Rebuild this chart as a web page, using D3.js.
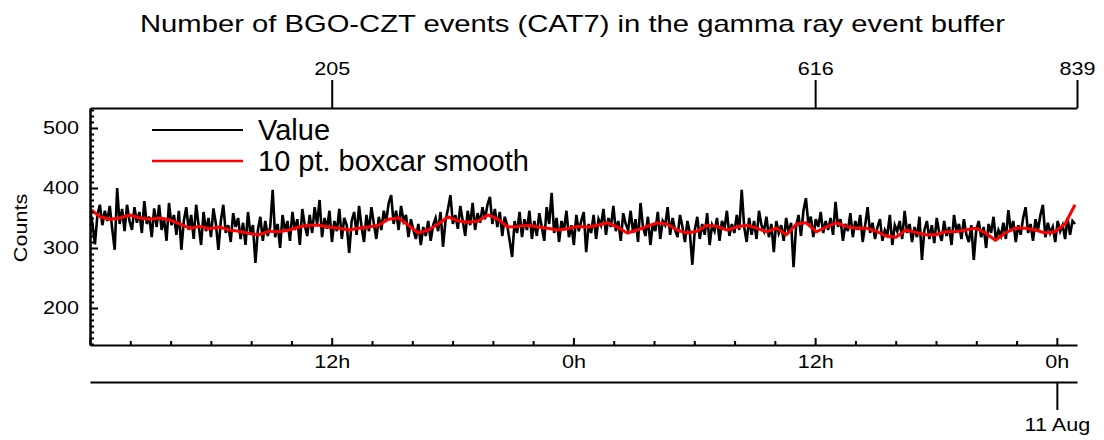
<!DOCTYPE html>
<html>
<head>
<meta charset="utf-8">
<script src="https://cdn.jsdelivr.net/npm/d3@7"></script>
<style>
  body { margin: 0; background: #fff; }
  svg { display: block; font-family: "Liberation Sans", Arial, sans-serif; }
</style>
</head>
<body>
<div id="root"></div>
<script>
const WIDTH = 1104;
const HEIGHT = 440;
const plot = { left: 90, right: 1077, top: 108, bottom: 345 };

// time span of the plot (UTC)
const startTime = new Date(Date.UTC(2022, 7, 9, 0, 0));
const endTime = new Date(Date.UTC(2022, 7, 11, 1, 0));
const lastSample = new Date(Date.UTC(2022, 7, 11, 0, 54));

// raw counts (evenly spaced in time)
const values = [
  365, 340, 306, 355, 372, 338, 362, 345, 370, 332, 297, 400, 340, 365, 328, 372, 345, 330, 368, 342,
  360, 325, 378, 340, 352, 318, 366, 335, 372, 330, 348, 312, 375, 338, 355, 322, 362, 297, 345, 368,
  330, 355, 315, 372, 338, 305, 360, 328, 350, 318, 366, 340, 297, 345, 372, 325, 338, 310, 358, 335,
  350, 315, 342, 305, 360, 322, 338, 275, 330, 352, 312, 345, 320, 335, 397, 318, 340, 300, 355, 328,
  345, 312, 360, 330, 348, 305, 365, 338, 320, 355, 325, 368, 340, 380, 318, 350, 332, 362, 310, 345,
  328, 365, 315, 350, 338, 292, 345, 360, 322, 370, 335, 310, 355, 328, 368, 340, 315, 352, 330, 362,
  345, 375, 388, 340, 362, 330, 370, 345, 355, 318, 348, 330, 315, 340, 305, 335, 320, 345, 312, 338,
  350, 328, 360, 302, 345, 365, 388, 340, 355, 332, 370, 345, 320, 362, 338, 375, 330, 358, 342, 368,
  348, 372, 385, 340, 365, 335, 360, 320, 352, 338, 312, 285, 345, 325, 360, 318, 348, 330, 362, 315,
  345, 320, 358, 335, 312, 368, 340, 392, 325, 350, 310, 345, 330, 362, 318, 338, 305, 355, 328, 345,
  360, 293, 340, 325, 355, 315, 348, 338, 365, 322, 350, 335, 370, 328, 345, 312, 358, 340, 330, 362,
  325, 348, 310, 375, 335, 320, 352, 305, 340, 328, 360, 315, 345, 338, 368, 322, 350, 330, 318, 355,
  335, 310, 345, 325, 272, 330, 352, 315, 340, 322, 358, 305, 338, 328, 350, 312, 345, 332, 362, 320,
  340, 325, 355, 330, 397, 335, 310, 350, 322, 345, 315, 362, 338, 328, 352, 318, 340, 293, 345, 325,
  338, 312, 350, 325, 342, 268, 335, 355, 320, 362, 383, 340, 352, 318, 348, 335, 360, 325, 345, 330,
  350, 322, 377, 335, 348, 312, 340, 328, 358, 318, 345, 330, 355, 310, 338, 368, 325, 342, 315, 335,
  348, 312, 330, 322, 355, 305, 338, 328, 345, 315, 362, 325, 340, 310, 335, 318, 352, 280, 330, 345,
  315, 338, 308, 350, 325, 312, 345, 320, 335, 305, 355, 328, 340, 315, 348, 322, 310, 338, 280, 330,
  345, 318, 335, 300, 340, 325, 352, 312, 330, 320, 342, 315, 363, 328, 345, 310, 338, 322, 350, 368,
  325, 340, 312, 348, 330, 355, 372, 318, 342, 325, 335, 310, 345, 328, 338, 315, 350, 322, 345, 340
];

// 10 pt. boxcar smooth (evenly spaced in time)
const smoothValues = [
  365, 352, 348, 350, 355, 350, 348, 350, 347, 340, 333, 336, 332, 335, 330, 328, 324, 322, 328, 327,
  330, 335, 338, 338, 335, 333, 330, 333, 335, 338, 348, 350, 338, 325, 330, 340, 352, 345, 343, 345,
  355, 348, 335, 336, 338, 335, 333, 330, 332, 336, 335, 338, 342, 335, 325, 330, 336, 342, 340, 330,
  325, 328, 338, 336, 330, 335, 338, 333, 327, 333, 322, 340, 342, 327, 335, 342, 336, 333, 333, 328,
  320, 318, 330, 326, 322, 322, 327, 327, 330, 333, 325, 313, 325, 333, 333, 330, 325, 327, 340, 372
];

const yMajorTicks = [200, 300, 400, 500];
const yMinorTicks = d3.range(140, 531, 10).filter(v => v % 100 !== 0);

const topTickTimes = [
  new Date(Date.UTC(2022, 7, 9, 12, 0)),
  new Date(Date.UTC(2022, 7, 10, 12, 0)),
  endTime
];
const topTickLabels = ['205', '616', '839'];

const bottomMajorTimes = d3.utcHour.every(12).range(startTime, endTime);
const bottomMajorLabels = ['', '12h', '0h', '12h', '0h'];
const bottomMinorTimes = d3.utcHour.every(2).range(startTime, endTime)
    .filter(d => d.getUTCHours() % 12 !== 0);
const dateTickTimes = [new Date(Date.UTC(2022, 7, 11, 0, 0))];
const dateTickLabels = ['11 Aug'];

const legendItems = ['Value', '10 pt. boxcar smooth'];
const legendColors = ['#000000', '#ff0000'];

const x = d3.scaleUtc().domain([startTime, endTime]).range([plot.left, plot.right]);
const y = d3.scaleLinear().domain([138.3, 533.3]).range([plot.bottom, plot.top]);

// sample index -> time (as ms, turned into Dates below)
const valueTime = d3.scaleLinear().domain([0, values.length - 1]).range([+startTime, +lastSample]);
const smoothTime = d3.scaleLinear().domain([0, smoothValues.length - 1]).range([+startTime, +lastSample]);

const svg = d3.select('#root').append('svg')
    .attr('width', WIDTH)
    .attr('height', HEIGHT);

const FONT = '"Liberation Sans", Arial, sans-serif';
const STRETCH = 1.2;

// title
svg.append('text')
    .attr('x', 140)
    .attr('y', 32)
    .attr('textLength', 865)
    .attr('lengthAdjust', 'spacingAndGlyphs')
    .style('font-size', '24px')
    .text('Number of BGO-CZT events (CAT7) in the gamma ray event buffer');

// data lines
svg.append('clipPath').attr('id', 'clip')
  .append('rect')
    .attr('x', plot.left).attr('y', plot.top)
    .attr('width', plot.right - plot.left + 2).attr('height', plot.bottom - plot.top);

const line = d3.line()
    .x(d => x(d.t))
    .y(d => y(d.v));

svg.append('path')
    .datum(values.map((v, i) => ({ t: new Date(valueTime(i)), v })))
    .attr('clip-path', 'url(#clip)')
    .attr('fill', 'none')
    .attr('stroke', legendColors[0])
    .attr('stroke-width', 2.6)
    .attr('stroke-linejoin', 'miter')
    .attr('d', line);

svg.append('path')
    .datum(smoothValues.map((v, i) => ({ t: new Date(smoothTime(i)), v })))
    .attr('clip-path', 'url(#clip)')
    .attr('fill', 'none')
    .attr('stroke', legendColors[1])
    .attr('stroke-width', 3)
    .attr('stroke-linejoin', 'round')
    .attr('d', line);

function styleAxis(g) {
    g.attr('font-family', FONT).attr('font-size', 18);
    g.select('.domain').attr('stroke-width', 2).attr('stroke', '#000');
    g.selectAll('.tick line').attr('stroke-width', 2).attr('stroke', '#000');
    g.selectAll('.tick text').attr('fill', '#000');
}

// left axis
svg.append('g')
    .attr('transform', `translate(${plot.left},0)`)
    .call(d3.axisLeft(y).tickValues(yMinorTicks).tickSize(-4).tickSizeOuter(0).tickFormat(''))
    .call(g => g.select('.domain').remove())
    .call(styleAxis);

svg.append('g')
    .attr('transform', `translate(${plot.left},0)`)
    .call(d3.axisLeft(y).tickValues(yMajorTicks).tickSize(-8).tickSizeOuter(0).tickPadding(11))
    .call(styleAxis)
    .call(g => g.select('.domain').attr('stroke-width', 2.5))
    .call(g => g.selectAll('.tick text')
        .attr('x', 0)
        .attr('transform', `translate(-11,0) scale(${STRETCH},1)`));

svg.append('text')
    .attr('transform', `translate(27,228) rotate(-90) scale(${STRETCH},1)`)
    .attr('text-anchor', 'middle')
    .style('font-size', '18px')
    .text('Counts');

// bottom time axis
svg.append('g')
    .attr('transform', `translate(0,${plot.bottom})`)
    .call(d3.axisBottom(x).tickValues(bottomMinorTimes).tickSize(-4).tickSizeOuter(0).tickFormat(''))
    .call(g => g.select('.domain').remove())
    .call(styleAxis);

svg.append('g')
    .attr('transform', `translate(0,${plot.bottom})`)
    .call(d3.axisBottom(x).tickValues(bottomMajorTimes).tickSize(-7).tickSizeOuter(0)
        .tickPadding(10).tickFormat((d, i) => bottomMajorLabels[i]))
    .call(styleAxis)
    .call(g => g.selectAll('.tick text').attr('transform', `scale(${STRETCH},1)`));

// date axis
svg.append('g')
    .attr('transform', 'translate(0,382)')
    .call(d3.axisBottom(x).tickValues(dateTickTimes).tickSize(28).tickSizeOuter(0)
        .tickPadding(8).tickFormat((d, i) => dateTickLabels[i]))
    .call(styleAxis)
    .call(g => g.selectAll('.tick text').attr('transform', `scale(${STRETCH},1)`));

// top index axis
svg.append('g')
    .attr('transform', `translate(0,${plot.top})`)
    .call(d3.axisTop(x).tickValues(topTickTimes).tickSize(28).tickSizeOuter(0)
        .tickPadding(5).tickFormat((d, i) => topTickLabels[i]))
    .call(styleAxis)
    .call(g => g.selectAll('.tick text').attr('transform', `scale(${STRETCH},1)`));

// legend
const legend = svg.selectAll('.legend')
    .data(legendItems)
  .enter().append('g')
    .attr('class', 'legend')
    .attr('transform', (d, i) => `translate(0, ${i * 31})`);

legend.append('line')
    .attr('x1', 152).attr('x2', 243)
    .attr('y1', 130).attr('y2', 130)
    .attr('stroke', (d, i) => legendColors[i])
    .attr('stroke-width', (d, i) => i ? 2.5 : 2);

legend.append('text')
    .attr('x', 258)
    .attr('y', 140)
    .style('font-size', '29px')
    .text(d => d);
</script>
</body>
</html>
